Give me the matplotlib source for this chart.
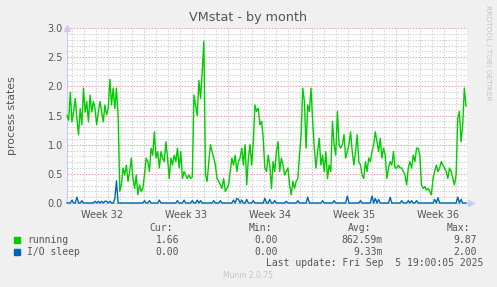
#!/usr/bin/env python3
import numpy as np
import matplotlib.pyplot as plt
from matplotlib.patches import Rectangle

# running processes (about one point every 3.3 hours)
running = [
    1.5, 1.42, 1.9, 1.39, 1.56, 1.79, 1.45, 1.17, 1.62, 1.34, 1.97, 1.56,
    1.74, 1.39, 1.85, 1.56, 1.74, 1.62, 1.34, 1.56, 1.74, 1.56, 1.39, 1.68,
    1.51, 1.62, 2.12, 1.68, 1.97, 1.62, 1.97, 1.5, 0.2, 0.31, 0.6, 0.48,
    0.65, 0.37, 0.54, 0.77, 0.42, 0.25, 0.48, 0.14, 0.31, 0.2, 0.25, 0.48,
    # week 33
    0.77, 0.71, 0.54, 0.94, 0.82, 1.22, 0.77, 0.88, 0.6, 0.88, 0.77, 0.71,
    1.05, 0.77, 0.42, 0.77, 0.65, 0.82, 0.71, 0.94, 0.6, 0.88, 0.42, 0.54,
    0.48, 0.42, 0.48, 0.42, 0.45, 1.85, 1.68, 1.5, 2.1, 1.79, 2.25, 2.77,
    0.48, 0.37, 0.71, 1.0, 0.88, 0.77, 0.65, 0.42, 0.37, 0.31, 0.25, 0.42,
    0.2,
    # week 34
    0.25, 0.31, 0.54, 0.77, 0.65, 0.82, 0.54, 0.71, 0.77, 0.94, 0.65, 1.0,
    0.31, 0.77, 1.0, 0.65, 1.05, 1.68, 1.57, 1.62, 1.34, 1.4, 1.11, 0.6,
    0.54, 0.82, 0.65, 0.25, 0.71, 0.54, 0.88, 1.05, 0.54, 0.77, 0.65, 0.48,
    0.54, 0.6, 0.31, 0.14, 0.37, 0.25, 0.37, 0.42, 0.82, 1.17, 1.97, 1.74,
    0.94,
    # week 35
    1.68, 1.57, 1.97, 1.4, 0.94, 0.6, 0.88, 1.11, 0.65, 0.82, 0.54, 0.88,
    0.42, 0.65, 0.54, 1.4, 1.0, 0.82, 1.57, 1.0, 0.94, 1.0, 1.17, 0.77,
    0.88, 1.0, 1.22, 0.88, 0.65, 0.88, 1.17, 0.71, 0.65, 0.48, 0.42, 0.71,
    0.54, 0.77, 0.71, 0.88, 1.0, 1.22, 1.05, 0.88, 1.11, 0.77, 0.94, 0.82,
    0.42,
    # week 36
    0.6, 0.71, 0.65, 0.88, 0.6, 0.6, 0.65, 0.6, 0.6, 0.54, 0.48, 0.31,
    0.6, 0.71, 0.6, 0.82, 0.71, 0.94, 0.94, 0.82, 0.31, 0.25, 0.28, 0.22,
    0.25, 0.2, 0.14, 0.42, 0.54, 0.65, 0.54, 0.6, 0.71, 0.65, 0.6, 0.54,
    0.42, 0.6, 0.54, 0.42, 0.31, 0.48, 1.45, 1.57, 1.05, 1.34, 1.97, 1.66,
]

# I/O sleep is zero except for short spikes: sample index -> value
io_spike_idx = [3, 6, 9, 17, 19, 21, 23, 24, 26, 29, 30, 47, 50, 56, 67, 71,
                76, 79, 81, 89, 93, 101, 103, 104, 106, 109, 113, 120, 123,
                126, 133, 140, 146, 155, 162, 170, 178, 185, 187, 189, 196,
                203, 207, 209, 212, 223, 225, 237, 239]
io_spike_val = [0.05, 0.1, 0.04, 0.03, 0.03, 0.03, 0.03, 0.03, 0.03, 0.07,
                0.38, 0.04, 0.04, 0.05, 0.04, 0.05, 0.04, 0.05, 0.04, 0.04,
                0.04, 0.05, 0.08, 0.06, 0.05, 0.06, 0.04, 0.08, 0.06, 0.04,
                0.03, 0.04, 0.1, 0.04, 0.04, 0.12, 0.04, 0.12, 0.08, 0.06,
                0.1, 0.04, 0.04, 0.04, 0.04, 0.06, 0.09, 0.1, 0.06]

week_labels = ["Week 32", "Week 33", "Week 34", "Week 35", "Week 36"]
week_starts = [6.43, 13.43, 20.43, 27.43]   # days from left edge (Sundays)

legend_names = ["running", "I/O sleep"]
legend_cur = ["1.66", "0.00"]
legend_min = ["0.00", "0.00"]
legend_avg = ["862.59m", "9.33m"]
legend_max = ["9.87", "2.00"]
last_update = "Last update: Fri Sep  5 19:00:05 2025"

GREEN = "#00cc00"
BLUE = "#0066b3"
TXT = "#555555"
W, H = 497, 287

io_sleep = np.zeros(len(running))
io_sleep[io_spike_idx] = io_spike_val
t = np.linspace(0, 33.25, len(running))


def px(x, y):
    return x / W, 1 - y / H


fig = plt.figure(figsize=(W / 100, H / 100), dpi=100, facecolor="#f0f0f0")
ax = fig.add_axes([67 / W, 1 - 203 / H, 400 / W, 175 / H])
ax.set_facecolor("white")

ax.set_xlim(0, 400 / 12)
ax.set_ylim(0, 3.0)

# grid: minor grey dotted, major light red dotted
dots = (0, (1.5, 1.5))
ax.set_yticks(np.arange(0, 3.01, 0.5))
ax.set_yticklabels(["%.1f" % v for v in np.arange(0, 3.01, 0.5)])
ax.set_yticks(np.arange(0, 3.01, 0.1), minor=True)
ax.set_xticks([s - 3.5 for s in week_starts] + [week_starts[-1] + 3.5])
ax.set_xticklabels(week_labels)
ax.set_xticks(np.arange(0.43, 33.4, 1.0), minor=True)
ax.grid(True, axis="y", which="major", color="#f0a0a0", lw=0.72, ls=dots)
ax.grid(True, axis="y", which="minor", color="#d0d0d0", lw=0.72, ls=dots)
ax.grid(True, axis="x", which="minor", color="#d0d0d0", lw=0.72, ls=dots)
for s in week_starts:
    ax.axvline(s, color="#f0a0a0", lw=0.72, ls=dots, zorder=1.5)
ax.tick_params(which="both", length=0, colors=TXT, labelsize=7, pad=3)
ax.tick_params(axis="x", pad=5)

for side in ["top", "right"]:
    ax.spines[side].set_visible(False)
ax.spines["left"].set_color("#c8cdf0")
ax.spines["bottom"].set_color("#c8cdf0")

ax.plot(t, running, color=GREEN, lw=1.0, zorder=3, clip_on=False)
ax.plot(t, io_sleep, color=BLUE, lw=1.0, zorder=4, clip_on=False)

# axis arrows
ax.plot([0], [1.0], marker="^", ms=4, color="#c8cdf0", transform=ax.transAxes,
        clip_on=False)
ax.plot([1.01], [0], marker=">", ms=4, color="#c8cdf0", transform=ax.transAxes,
        clip_on=False)

ax.set_ylabel("process states", fontsize=7.8, color=TXT, labelpad=22)
fig.text(*px(248, 18), "VMstat - by month", ha="center", va="center",
         fontsize=9.2, color=TXT)
fig.text(*px(488, 5), "RRDTOOL / TOBI OETIKER", ha="center", va="top",
         rotation=270, fontsize=5.4, color="#c4c4c4")

mono = dict(family="DejaVu Sans Mono", fontsize=7, color=TXT, va="center")
fig.text(*px(173, 228), "Cur:", ha="right", **mono)
fig.text(*px(272, 228), "Min:", ha="right", **mono)
fig.text(*px(371, 228), "Avg:", ha="right", **mono)
fig.text(*px(470, 228), "Max:", ha="right", **mono)
colors = [GREEN, BLUE]
for i, name in enumerate(legend_names):
    y = 240 + 12 * i
    fig.add_artist(Rectangle(px(14, y + 3), 6 / W, 6 / H, color=colors[i],
                             transform=fig.transFigure))
    fig.text(*px(27, y), name, ha="left", **mono)
    fig.text(*px(179, y), legend_cur[i], ha="right", **mono)
    fig.text(*px(278, y), legend_min[i], ha="right", **mono)
    fig.text(*px(383, y), legend_avg[i], ha="right", **mono)
    fig.text(*px(477, y), legend_max[i], ha="right", **mono)
fig.text(*px(483, 263), last_update, ha="right", **mono)
fig.text(*px(248, 276), "Munin 2.0.75", ha="center", va="center",
         fontsize=5.5, color="#c4c4c4")

fig.savefig("out.png", dpi=100, facecolor=fig.get_facecolor())
